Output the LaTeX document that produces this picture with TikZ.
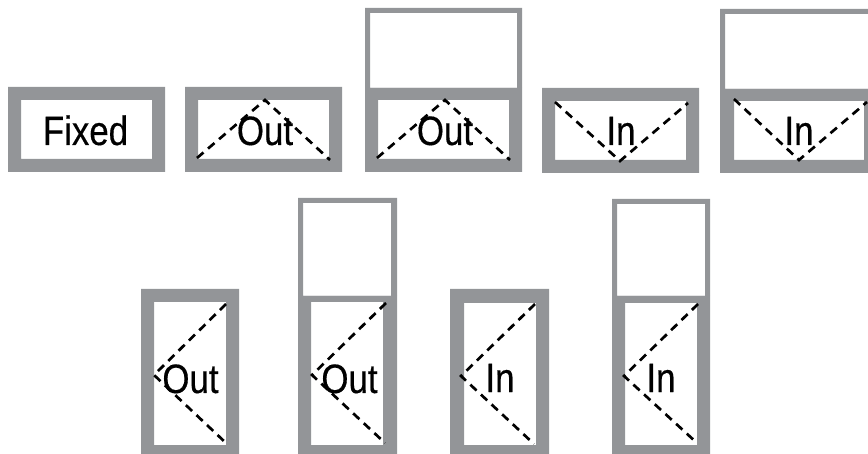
\documentclass[tikz,border=0pt]{standalone}
\usepackage{fontspec}
\setmainfont[FakeStretch=0.85,FakeBold=0.4]{Liberation Sans}
\definecolor{framegray}{HTML}{939598}
% outer x1,y1,x2,y2 then inner x1,y1,x2,y2
\newcommand{\winframe}[8]{\fill[framefill] (#1,#2) rectangle (#3,#4) (#5,#6) rectangle (#7,#8);}
\tikzset{
  framefill/.style={fill=framegray,even odd rule},
  swingline/.style={draw=black,line width=2.7pt,dash pattern=on 8.5pt off 6pt},
  winlabel/.style={anchor=base,inner sep=0pt,font=\fontsize{41pt}{41pt}\selectfont}
}
\begin{document}
\begin{tikzpicture}[x=1pt,y=-1pt]
\useasboundingbox (0,0) rectangle (868,454);
% top row
\winframe{8}{87}{165}{172}{21}{100}{152}{159}
\node[winlabel] (fixed) at (85.5,145) {Fixed};

\winframe{185}{87}{342}{172}{198}{100}{329}{159}
\node[winlabel] (out1) at (265,145) {Out};
\draw[swingline] (197,158) -- (265,100) -- (330,160);

\winframe{365}{8}{522}{88}{370}{13}{517}{88}
\winframe{365}{88}{522}{172}{378}{100}{509}{159}
\node[winlabel] (out2) at (445,145) {Out};
\draw[swingline] (377,158) -- (445,100) -- (510,160);

\winframe{542}{88}{699}{173}{555}{101}{686}{160}
\node[winlabel] (in1) at (621,145) {In};
\draw[swingline] (555,102) -- (620,161) -- (688,103);

\winframe{720}{9}{877}{89}{725}{14}{872}{89}
\winframe{720}{89}{877}{173}{734}{101}{864}{160}
\node[winlabel] (in2) at (799,145) {In};
\draw[swingline] (734,99) -- (799,160) -- (867,102);

% bottom row
\winframe{141}{289}{239}{454}{154}{302}{226}{445}
\node[winlabel] (out3) at (190.5,393) {Out};
\draw[swingline] (226,304) -- (154,375) -- (226,443);

\winframe{298}{198}{397}{296}{303}{203}{391}{296}
\winframe{298}{296}{397}{454}{311}{302}{383}{445}
\node[winlabel] (out4) at (349.5,393) {Out};
\draw[swingline] (386,303) -- (312,375) -- (385,443);

\winframe{450}{289}{549}{454}{464}{303}{536}{445}
\node[winlabel] (in3) at (500,392) {In};
\draw[swingline] (535,304) -- (461,376) -- (534,444);

\winframe{612}{199}{710}{296}{617}{204}{705}{296}
\winframe{612}{296}{710}{454}{625}{303}{697}{445}
\node[winlabel] (in4) at (661,392) {In};
\draw[swingline] (698,304) -- (624,376) -- (697,443);
\end{tikzpicture}
\end{document}
